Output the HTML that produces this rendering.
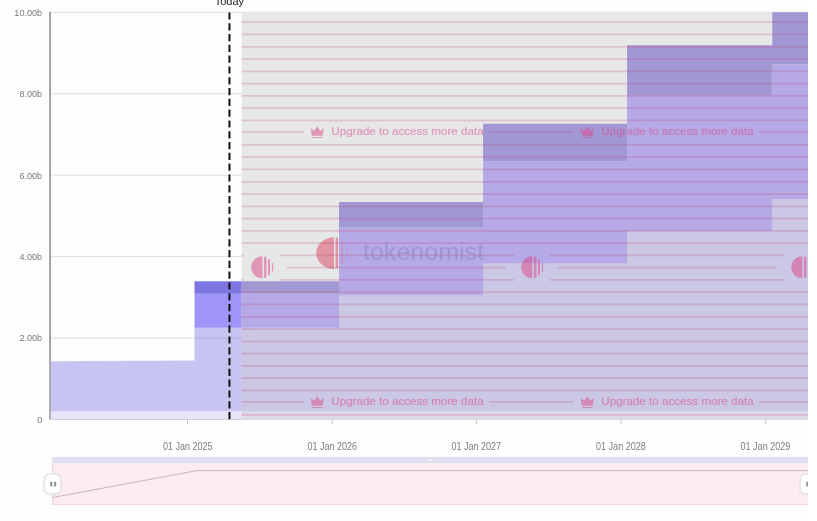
<!DOCTYPE html>
<html><head><meta charset="utf-8"><title>chart</title>
<style>
html,body{margin:0;padding:0;background:#fff;}
body{width:817px;height:521px;overflow:hidden;font-family:"Liberation Sans",sans-serif;}
svg{display:block;filter:blur(0.45px);}
text{font-family:"Liberation Sans",sans-serif;}
</style></head><body>
<svg width="817" height="521" viewBox="0 0 817 521">
<defs>
<clipPath id="cp"><rect x="0" y="0" width="808.0" height="521"/></clipPath>
<clipPath id="ov"><rect x="241.4" y="12.3" width="566.6" height="407.2"/></clipPath>
<filter id="sh" x="-50%" y="-50%" width="200%" height="200%"><feGaussianBlur stdDeviation="1.2"/></filter>
</defs>
<rect x="0" y="0" width="817" height="521" fill="#ffffff"/>
<g clip-path="url(#cp)">
<rect x="0" y="0" width="808.0" height="521" fill="#fefefe"/>

<line x1="50.1" y1="11.8" x2="50.1" y2="419.5" stroke="#9a9a9a" stroke-width="1.8"/>
<polygon points="50.70,411.30 194.50,411.30 194.50,411.30 339.00,411.30 339.00,411.30 483.10,411.30 483.10,411.30 627.10,411.30 627.10,411.30 772.30,411.30 772.30,411.30 808.00,411.30 808.00,419.50 772.30,419.50 772.30,419.50 627.10,419.50 627.10,419.50 483.10,419.50 483.10,419.50 339.00,419.50 339.00,419.50 194.50,419.50 194.50,419.50 50.70,419.50" fill="#e6e4f6"/>
<polygon points="50.70,361.30 194.50,360.40 194.50,327.80 339.00,327.80 339.00,295.60 483.10,295.60 483.10,263.50 627.10,263.50 627.10,231.20 772.30,231.20 772.30,199.00 808.00,199.00 808.00,411.30 772.30,411.30 772.30,411.30 627.10,411.30 627.10,411.30 483.10,411.30 483.10,411.30 339.00,411.30 339.00,411.30 194.50,411.30 194.50,411.30 50.70,411.30" fill="#c8c4f1"/>
<polygon points="50.70,361.30 194.50,360.40 194.50,293.80 339.00,293.80 339.00,227.60 483.10,227.60 483.10,161.50 627.10,161.50 627.10,95.80 772.30,95.80 772.30,64.30 808.00,64.30 808.00,199.00 772.30,199.00 772.30,231.20 627.10,231.20 627.10,263.50 483.10,263.50 483.10,295.60 339.00,295.60 339.00,327.80 194.50,327.80 194.50,360.40 50.70,361.30" fill="#9f95f9"/>
<polygon points="50.70,361.30 194.50,360.40 194.50,281.30 339.00,281.30 339.00,202.00 483.10,202.00 483.10,123.70 627.10,123.70 627.10,45.20 772.30,45.20 772.30,12.30 808.00,12.30 808.00,64.30 772.30,64.30 772.30,95.80 627.10,95.80 627.10,161.50 483.10,161.50 483.10,227.60 339.00,227.60 339.00,293.80 194.50,293.80 194.50,360.40 50.70,361.30" fill="#7c75e2"/>
<line x1="50.2" y1="338.06" x2="808.0" y2="338.06" stroke="#000" stroke-opacity="0.13" stroke-width="1"/>
<line x1="50.2" y1="256.62" x2="808.0" y2="256.62" stroke="#000" stroke-opacity="0.13" stroke-width="1"/>
<line x1="50.2" y1="175.18" x2="808.0" y2="175.18" stroke="#000" stroke-opacity="0.13" stroke-width="1"/>
<line x1="50.2" y1="93.74" x2="808.0" y2="93.74" stroke="#000" stroke-opacity="0.13" stroke-width="1"/>
<line x1="50.2" y1="12.30" x2="808.0" y2="12.30" stroke="#000" stroke-opacity="0.13" stroke-width="1"/>
<line x1="50.2" y1="419.5" x2="808.0" y2="419.5" stroke="#d0d0d8" stroke-width="1"/>
<line x1="187.5" y1="419.5" x2="187.5" y2="424.0" stroke="#c8c8c8" stroke-width="1"/>
<line x1="332.3" y1="419.5" x2="332.3" y2="424.0" stroke="#c8c8c8" stroke-width="1"/>
<line x1="476.4" y1="419.5" x2="476.4" y2="424.0" stroke="#c8c8c8" stroke-width="1"/>
<line x1="620.9" y1="419.5" x2="620.9" y2="424.0" stroke="#c8c8c8" stroke-width="1"/>
<line x1="765.6" y1="419.5" x2="765.6" y2="424.0" stroke="#c8c8c8" stroke-width="1"/>
<line x1="229.45" y1="12.4" x2="229.45" y2="419.5" stroke="#111" stroke-width="2" stroke-dasharray="7.2 3.6"/>
<g opacity="0.99"><text x="229.4" y="5.2" font-size="11" text-anchor="middle" fill="#1c1c1c">Today</text></g>
<g clip-path="url(#ov)">
<rect x="241.4" y="12.3" width="566.6" height="407.2" fill="#e6e8e8"/>
<polygon points="50.70,411.30 194.50,411.30 194.50,411.30 339.00,411.30 339.00,411.30 483.10,411.30 483.10,411.30 627.10,411.30 627.10,411.30 772.30,411.30 772.30,411.30 808.00,411.30 808.00,419.50 772.30,419.50 772.30,419.50 627.10,419.50 627.10,419.50 483.10,419.50 483.10,419.50 339.00,419.50 339.00,419.50 194.50,419.50 194.50,419.50 50.70,419.50" fill="#dfd8e8"/>
<polygon points="50.70,361.30 194.50,360.40 194.50,327.80 339.00,327.80 339.00,295.60 483.10,295.60 483.10,263.50 627.10,263.50 627.10,231.20 772.30,231.20 772.30,199.00 808.00,199.00 808.00,411.30 772.30,411.30 772.30,411.30 627.10,411.30 627.10,411.30 483.10,411.30 483.10,411.30 339.00,411.30 339.00,411.30 194.50,411.30 194.50,411.30 50.70,411.30" fill="#cac8e4"/>
<polygon points="50.70,361.30 194.50,360.40 194.50,293.80 339.00,293.80 339.00,227.60 483.10,227.60 483.10,161.50 627.10,161.50 627.10,95.80 772.30,95.80 772.30,64.30 808.00,64.30 808.00,199.00 772.30,199.00 772.30,231.20 627.10,231.20 627.10,263.50 483.10,263.50 483.10,295.60 339.00,295.60 339.00,327.80 194.50,327.80 194.50,360.40 50.70,361.30" fill="#b5aae5"/>
<polygon points="50.70,361.30 194.50,360.40 194.50,281.30 339.00,281.30 339.00,202.00 483.10,202.00 483.10,123.70 627.10,123.70 627.10,45.20 772.30,45.20 772.30,12.30 808.00,12.30 808.00,64.30 772.30,64.30 772.30,95.80 627.10,95.80 627.10,161.50 483.10,161.50 483.10,227.60 339.00,227.60 339.00,293.80 194.50,293.80 194.50,360.40 50.70,361.30" fill="#a198d3"/>
<clipPath id="wmL"><rect x="0" y="200" width="339" height="100"/></clipPath>
<clipPath id="wmR"><rect x="339" y="200" width="400" height="100"/></clipPath>
<g clip-path="url(#wmL)" opacity="0.58"><path d="M334 237.3 A17.8 15.8 0 0 0 334 268.9 Z" fill="#dc5a74"/>
<rect x="335.6" y="237.6" width="2.6" height="31" rx="1.3" fill="#dc5a74"/>
<rect x="341.2" y="241.5" width="1.9" height="23" rx="0.9" fill="#dc5a74"/>
<rect x="346.6" y="247.5" width="1.3" height="11" rx="0.6" fill="#dc5a74"/>
<text x="363" y="260" font-size="23.5" textLength="121" lengthAdjust="spacingAndGlyphs" fill="#55548c">tokenomist</text></g>
<g clip-path="url(#wmR)" opacity="0.22"><path d="M334 237.3 A17.8 15.8 0 0 0 334 268.9 Z" fill="#dc5a74"/>
<rect x="335.6" y="237.6" width="2.6" height="31" rx="1.3" fill="#dc5a74"/>
<rect x="341.2" y="241.5" width="1.9" height="23" rx="0.9" fill="#dc5a74"/>
<rect x="346.6" y="247.5" width="1.3" height="11" rx="0.6" fill="#dc5a74"/>
<text x="363" y="260" font-size="23.5" textLength="121" lengthAdjust="spacingAndGlyphs" fill="#55548c">tokenomist</text></g>
<g opacity="0.23" stroke="#c04476" stroke-width="1.75" fill="#c04476">
<line x1="236.4" y1="22.20" x2="813.0" y2="22.20"/>
<line x1="236.4" y1="34.47" x2="813.0" y2="34.47"/>
<line x1="236.4" y1="46.75" x2="813.0" y2="46.75"/>
<line x1="236.4" y1="59.02" x2="813.0" y2="59.02"/>
<line x1="236.4" y1="71.29" x2="813.0" y2="71.29"/>
<line x1="236.4" y1="83.56" x2="813.0" y2="83.56"/>
<line x1="236.4" y1="95.84" x2="813.0" y2="95.84"/>
<line x1="236.4" y1="108.11" x2="813.0" y2="108.11"/>
<line x1="236.4" y1="120.38" x2="813.0" y2="120.38"/>
<line x1="-51.0" y1="131.95" x2="33.5" y2="131.95"/>
<line x1="219.0" y1="131.95" x2="303.5" y2="131.95"/>
<line x1="489.0" y1="131.95" x2="573.5" y2="131.95"/>
<line x1="759.0" y1="131.95" x2="843.5" y2="131.95"/>
<line x1="1029.0" y1="131.95" x2="1113.5" y2="131.95"/>
<line x1="236.4" y1="144.93" x2="813.0" y2="144.93"/>
<line x1="236.4" y1="157.20" x2="813.0" y2="157.20"/>
<line x1="236.4" y1="169.47" x2="813.0" y2="169.47"/>
<line x1="236.4" y1="181.75" x2="813.0" y2="181.75"/>
<line x1="236.4" y1="194.02" x2="813.0" y2="194.02"/>
<line x1="236.4" y1="206.29" x2="813.0" y2="206.29"/>
<line x1="236.4" y1="218.56" x2="813.0" y2="218.56"/>
<line x1="236.4" y1="230.84" x2="813.0" y2="230.84"/>
<line x1="236.4" y1="243.11" x2="813.0" y2="243.11"/>
<line x1="-260.0" y1="255.38" x2="-26.0" y2="255.38"/>
<line x1="10.0" y1="255.38" x2="244.0" y2="255.38"/>
<line x1="280.0" y1="255.38" x2="514.0" y2="255.38"/>
<line x1="550.0" y1="255.38" x2="784.0" y2="255.38"/>
<line x1="820.0" y1="255.38" x2="1054.0" y2="255.38"/>
<line x1="-253.0" y1="267.65" x2="-34.0" y2="267.65"/>
<line x1="17.0" y1="267.65" x2="236.0" y2="267.65"/>
<line x1="287.0" y1="267.65" x2="506.0" y2="267.65"/>
<line x1="557.0" y1="267.65" x2="776.0" y2="267.65"/>
<line x1="827.0" y1="267.65" x2="1046.0" y2="267.65"/>
<line x1="-260.0" y1="279.93" x2="-26.0" y2="279.93"/>
<line x1="10.0" y1="279.93" x2="244.0" y2="279.93"/>
<line x1="280.0" y1="279.93" x2="514.0" y2="279.93"/>
<line x1="550.0" y1="279.93" x2="784.0" y2="279.93"/>
<line x1="820.0" y1="279.93" x2="1054.0" y2="279.93"/>
<line x1="236.4" y1="292.20" x2="813.0" y2="292.20"/>
<line x1="236.4" y1="304.47" x2="813.0" y2="304.47"/>
<line x1="236.4" y1="316.75" x2="813.0" y2="316.75"/>
<line x1="236.4" y1="329.02" x2="813.0" y2="329.02"/>
<line x1="236.4" y1="341.29" x2="813.0" y2="341.29"/>
<line x1="236.4" y1="353.56" x2="813.0" y2="353.56"/>
<line x1="236.4" y1="365.84" x2="813.0" y2="365.84"/>
<line x1="236.4" y1="378.11" x2="813.0" y2="378.11"/>
<line x1="236.4" y1="390.38" x2="813.0" y2="390.38"/>
<line x1="-51.0" y1="401.95" x2="33.5" y2="401.95"/>
<line x1="219.0" y1="401.95" x2="303.5" y2="401.95"/>
<line x1="489.0" y1="401.95" x2="573.5" y2="401.95"/>
<line x1="759.0" y1="401.95" x2="843.5" y2="401.95"/>
<line x1="1029.0" y1="401.95" x2="1113.5" y2="401.95"/>
<line x1="236.4" y1="414.93" x2="813.0" y2="414.93"/>
</g>
<g opacity="0.5" fill="#dc4686">
<g transform="translate(310.25,126.10)"><path d="M0.3 1.9 L3.9 4.6 L7 0.2 L10.1 4.6 L13.7 1.9 L12.3 9.6 L1.7 9.6 Z" stroke="none"/><rect x="1.7" y="10.8" width="10.6" height="1.1" rx="0.4" stroke="none"/></g>
<text x="331.3" y="134.5" font-size="10" textLength="152.3" lengthAdjust="spacingAndGlyphs" stroke="#dc4686" stroke-width="0.22">Upgrade to access more data</text>
<g transform="translate(310.25,396.10)"><path d="M0.3 1.9 L3.9 4.6 L7 0.2 L10.1 4.6 L13.7 1.9 L12.3 9.6 L1.7 9.6 Z" stroke="none"/><rect x="1.7" y="10.8" width="10.6" height="1.1" rx="0.4" stroke="none"/></g>
<text x="331.3" y="404.5" font-size="10" textLength="152.3" lengthAdjust="spacingAndGlyphs" stroke="#dc4686" stroke-width="0.22">Upgrade to access more data</text>
<g transform="translate(580.25,126.10)"><path d="M0.3 1.9 L3.9 4.6 L7 0.2 L10.1 4.6 L13.7 1.9 L12.3 9.6 L1.7 9.6 Z" stroke="none"/><rect x="1.7" y="10.8" width="10.6" height="1.1" rx="0.4" stroke="none"/></g>
<text x="601.3" y="134.5" font-size="10" textLength="152.3" lengthAdjust="spacingAndGlyphs" stroke="#dc4686" stroke-width="0.22">Upgrade to access more data</text>
<g transform="translate(580.25,396.10)"><path d="M0.3 1.9 L3.9 4.6 L7 0.2 L10.1 4.6 L13.7 1.9 L12.3 9.6 L1.7 9.6 Z" stroke="none"/><rect x="1.7" y="10.8" width="10.6" height="1.1" rx="0.4" stroke="none"/></g>
<text x="601.3" y="404.5" font-size="10" textLength="152.3" lengthAdjust="spacingAndGlyphs" stroke="#dc4686" stroke-width="0.22">Upgrade to access more data</text>
<g transform="translate(850.25,126.10)"><path d="M0.3 1.9 L3.9 4.6 L7 0.2 L10.1 4.6 L13.7 1.9 L12.3 9.6 L1.7 9.6 Z" stroke="none"/><rect x="1.7" y="10.8" width="10.6" height="1.1" rx="0.4" stroke="none"/></g>
<text x="871.3" y="134.5" font-size="10" textLength="152.3" lengthAdjust="spacingAndGlyphs" stroke="#dc4686" stroke-width="0.22">Upgrade to access more data</text>
<g transform="translate(850.25,396.10)"><path d="M0.3 1.9 L3.9 4.6 L7 0.2 L10.1 4.6 L13.7 1.9 L12.3 9.6 L1.7 9.6 Z" stroke="none"/><rect x="1.7" y="10.8" width="10.6" height="1.1" rx="0.4" stroke="none"/></g>
<text x="871.3" y="404.5" font-size="10" textLength="152.3" lengthAdjust="spacingAndGlyphs" stroke="#dc4686" stroke-width="0.22">Upgrade to access more data</text>
</g>
<g opacity="0.5" fill="#dc4686">
<g transform="translate(262.00,267.30)" stroke="none"><path d="M0.4 -11 A11.2 11 0 0 0 0.4 11 Z"/><rect x="1.9" y="-10.7" width="2.6" height="21.4" rx="1.3"/><rect x="6.0" y="-8.3" width="2.0" height="16.6" rx="1"/><rect x="9.9" y="-4.2" width="1.3" height="8.4" rx="0.6"/></g>
<g transform="translate(532.00,267.30)" stroke="none"><path d="M0.4 -11 A11.2 11 0 0 0 0.4 11 Z"/><rect x="1.9" y="-10.7" width="2.6" height="21.4" rx="1.3"/><rect x="6.0" y="-8.3" width="2.0" height="16.6" rx="1"/><rect x="9.9" y="-4.2" width="1.3" height="8.4" rx="0.6"/></g>
<g transform="translate(802.00,267.30)" stroke="none"><path d="M0.4 -11 A11.2 11 0 0 0 0.4 11 Z"/><rect x="1.9" y="-10.7" width="2.6" height="21.4" rx="1.3"/><rect x="6.0" y="-8.3" width="2.0" height="16.6" rx="1"/><rect x="9.9" y="-4.2" width="1.3" height="8.4" rx="0.6"/></g>
</g>
</g>
<g opacity="0.99">
<text x="42.2" y="422.8" font-size="9.1" text-anchor="end" fill="#777">0</text>
<text x="42.2" y="341.4" font-size="9.1" text-anchor="end" fill="#777">2.00b</text>
<text x="42.2" y="259.9" font-size="9.1" text-anchor="end" fill="#777">4.00b</text>
<text x="42.2" y="178.5" font-size="9.1" text-anchor="end" fill="#777">6.00b</text>
<text x="42.2" y="97.0" font-size="9.1" text-anchor="end" fill="#777">8.00b</text>
<text x="42.2" y="15.6" font-size="9.1" text-anchor="end" fill="#777">10.00b</text>
<text x="162.9" y="449.7" font-size="10.3" textLength="49.6" lengthAdjust="spacingAndGlyphs" fill="#7a7a7a">01 Jan 2025</text>
<text x="307.4" y="449.7" font-size="10.3" textLength="49.6" lengthAdjust="spacingAndGlyphs" fill="#7a7a7a">01 Jan 2026</text>
<text x="451.5" y="449.7" font-size="10.3" textLength="49.6" lengthAdjust="spacingAndGlyphs" fill="#7a7a7a">01 Jan 2027</text>
<text x="596.1" y="449.7" font-size="10.3" textLength="49.6" lengthAdjust="spacingAndGlyphs" fill="#7a7a7a">01 Jan 2028</text>
<text x="740.6" y="449.7" font-size="10.3" textLength="49.6" lengthAdjust="spacingAndGlyphs" fill="#7a7a7a">01 Jan 2029</text>
</g>
<rect x="52.2" y="457" width="760.8" height="6.5" fill="#dee0f0"/>
<rect x="52.2" y="463.5" width="760.8" height="41.4" fill="#fdecf1"/>
<polyline points="52.6,463.5 52.6,504.6 813.0,504.6" fill="none" stroke="#f0d3dc" stroke-width="1"/>
<rect x="428.6" y="459.2" width="4.2" height="1.8" rx="0.9" fill="#f1f3fb"/>
<polyline points="52.2,497.6 197,470.6 812.0,470.6" fill="none" stroke="#c9b4be" stroke-width="1"/>
<g transform="translate(44.4,0)"><rect x="-0.6" y="473.7" width="17.4" height="20.8" rx="6" fill="#000" opacity="0.10" filter="url(#sh)"/><rect x="0" y="474.3" width="16.2" height="19.4" rx="5.2" fill="#ffffff" stroke="#e7e7e7" stroke-width="1.6"/><rect x="5.8" y="481.8" width="2.2" height="4.7" rx="0.6" fill="#999999"/><rect x="9.6" y="481.8" width="2.2" height="4.7" rx="0.6" fill="#999999"/></g>
<g transform="translate(800.4,0)"><rect x="-0.6" y="473.7" width="17.4" height="20.8" rx="6" fill="#000" opacity="0.10" filter="url(#sh)"/><rect x="0" y="474.3" width="16.2" height="19.4" rx="5.2" fill="#ffffff" stroke="#e7e7e7" stroke-width="1.6"/><rect x="5.8" y="481.8" width="2.2" height="4.7" rx="0.6" fill="#999999"/><rect x="9.6" y="481.8" width="2.2" height="4.7" rx="0.6" fill="#999999"/></g>
</g>
</svg>
</body></html>
